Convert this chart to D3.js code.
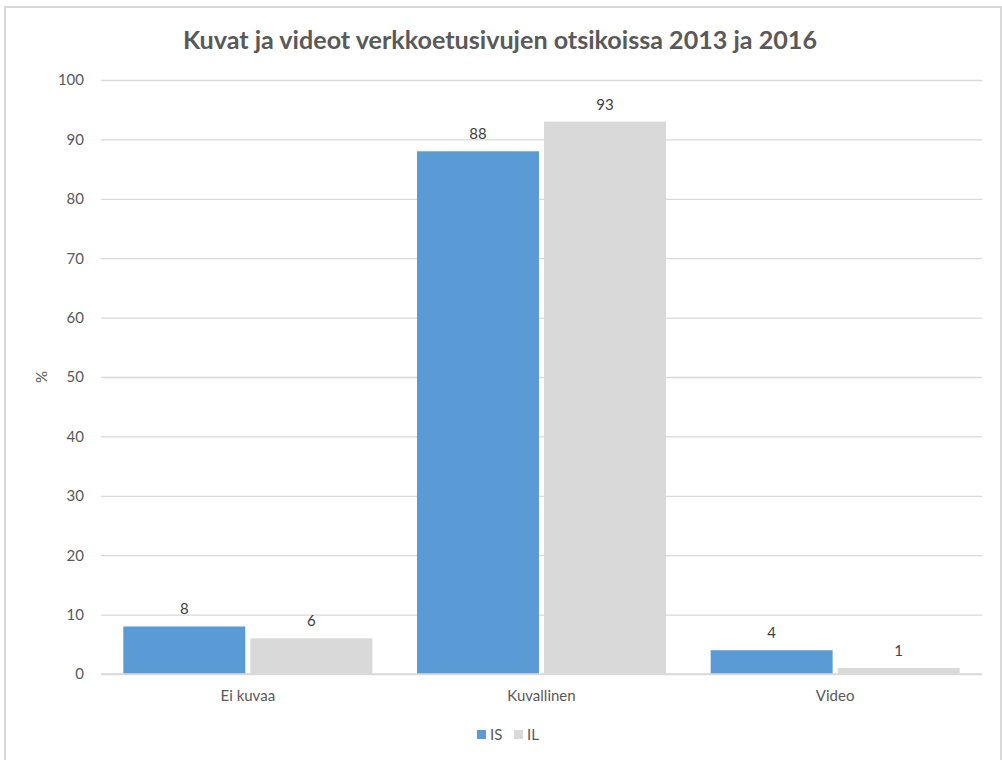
<!DOCTYPE html>
<html>
<head>
<meta charset="utf-8">
<script src="https://cdn.jsdelivr.net/npm/d3@7"></script>
<style>
  html, body { margin: 0; padding: 0; background: #fff; }
  svg { display: block; font-family: Lato, "Open Sans", sans-serif; }
</style>
</head>
<body>
<svg id="chart" width="1002" height="760"></svg>
<script>
// Chart data
const categories = ["Ei kuvaa", "Kuvallinen", "Video"];
const seriesNames = ["IS", "IL"];
const valuesIS = [8, 88, 4];
const valuesIL = [6, 93, 1];
const yTicks = [0, 10, 20, 30, 40, 50, 60, 70, 80, 90, 100];
const titleText = "Kuvat ja videot verkkoetusivujen otsikoissa 2013 ja 2016";
const yAxisTitle = "%";

const colors = { IS: "#5B9BD5", IL: "#D9D9D9" };
const seriesValues = { IS: valuesIS, IL: valuesIL };

const svg = d3.select("#chart");

// Chart area frame
svg.append("rect")
  .attr("x", 5).attr("y", 7)
  .attr("width", 996).attr("height", 770)
  .attr("fill", "#fff")
  .attr("stroke", "#d9d9d9")
  .attr("stroke-width", 2);

const plot = { left: 101, right: 982, top: 80, bottom: 674 };

const y = d3.scaleLinear().domain([0, 100]).range([plot.bottom, plot.top]);
const x = d3.scaleBand().domain(categories)
  .range([plot.left, plot.right])
  .paddingInner(0.152).paddingOuter(0.076);
const xs = d3.scaleBand().domain(seriesNames)
  .range([0, x.bandwidth()])
  .paddingInner(0.04);

// Title
svg.append("text")
  .attr("x", 500).attr("y", 49)
  .attr("text-anchor", "middle")
  .attr("font-size", 25)
  .attr("font-weight", "bold")
  .attr("fill", "#595959")
  .attr("textLength", 634)
  .attr("lengthAdjust", "spacingAndGlyphs")
  .text(titleText);

// Gridlines and y tick labels
const yAxis = d3.axisLeft(y).tickValues(yTicks).tickSize(-(plot.right - plot.left)).tickPadding(17);
const gy = svg.append("g")
  .attr("transform", `translate(${plot.left},0)`)
  .call(yAxis);
gy.select(".domain").remove();
gy.selectAll(".tick line").attr("stroke", "#d9d9d9").attr("stroke-width", 1.3);
gy.selectAll(".tick text")
  .attr("fill", "#595959")
  .attr("font-size", 15)
  .attr("font-family", "Lato, 'Open Sans', sans-serif");

// Y axis title
svg.append("text")
  .attr("transform", `translate(47,${(plot.top + plot.bottom) / 2}) rotate(-90)`)
  .attr("text-anchor", "middle")
  .attr("font-size", 15)
  .attr("fill", "#595959")
  .text(yAxisTitle);

// Bars
const groups = svg.append("g").selectAll("g")
  .data(categories)
  .join("g")
  .attr("transform", d => `translate(${x(d)},0)`);

groups.selectAll("rect")
  .data((c, i) => seriesNames.map(s => ({ s, v: seriesValues[s][i] })))
  .join("rect")
  .attr("x", d => xs(d.s))
  .attr("width", xs.bandwidth())
  .attr("y", d => y(d.v))
  .attr("height", d => y(0) - y(d.v))
  .attr("fill", d => colors[d.s]);

// Data labels
groups.selectAll("text.val")
  .data((c, i) => seriesNames.map(s => ({ s, v: seriesValues[s][i] })))
  .join("text")
  .attr("class", "val")
  .attr("x", d => xs(d.s) + xs.bandwidth() / 2)
  .attr("y", d => y(d.v) - 12)
  .attr("text-anchor", "middle")
  .attr("font-size", 15)
  .attr("fill", "#404040")
  .text(d => d.v);

// Baseline
svg.append("line")
  .attr("x1", plot.left).attr("x2", plot.right)
  .attr("y1", y(0)).attr("y2", y(0))
  .attr("stroke", "#d9d9d9").attr("stroke-width", 1.3);

// Category labels
const xAxis = d3.axisBottom(x).tickSize(0).tickPadding(16);
const gx = svg.append("g")
  .attr("transform", `translate(0,${plot.bottom})`)
  .call(xAxis);
gx.select(".domain").remove();
gx.selectAll(".tick text")
  .attr("fill", "#595959")
  .attr("font-size", 15)
  .attr("font-family", "Lato, 'Open Sans', sans-serif");

// Legend
const legend = svg.append("g").attr("transform", "translate(477,735)");
const legendItems = legend.selectAll("g")
  .data(seriesNames)
  .join("g")
  .attr("transform", (d, i) => `translate(${i * 37},0)`);
legendItems.append("rect")
  .attr("x", 0).attr("y", -5)
  .attr("width", 9).attr("height", 9)
  .attr("fill", d => colors[d]);
legendItems.append("text")
  .attr("x", 13).attr("y", 5)
  .attr("font-size", 15)
  .attr("fill", "#595959")
  .text(d => d);
</script>
</body>
</html>
